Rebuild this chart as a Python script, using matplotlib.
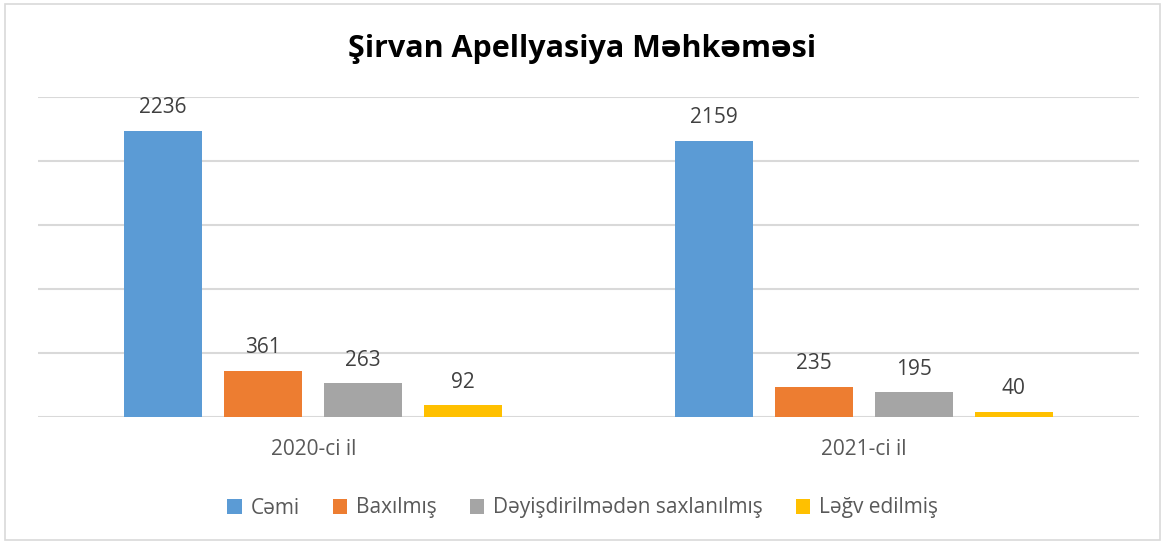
import matplotlib
matplotlib.use("Agg")
import matplotlib.pyplot as plt
import numpy as np
from matplotlib.patches import Rectangle

plt.rcParams['font.family'] = ['Open Sans', 'DejaVu Sans']

years = ["2020-ci il", "2021-ci il"]
series = ["Cəmi", "Baxılmış", "Dəyişdirilmədən saxlanılmış", "Ləğv edilmiş"]
cemi = [2236, 2159]
baxilmis = [361, 235]
deyisdirilmeden = [263, 195]
legv = [92, 40]
colors = ["#5B9BD5", "#ED7D31", "#A5A5A5", "#FFC000"]

values = [cemi, baxilmis, deyisdirilmeden, legv]

fig = plt.figure(figsize=(11.65, 5.44), dpi=100)
ax = fig.add_axes([38 / 1165, 1 - 417 / 544, (1139 - 38) / 1165, (417 - 97) / 544])

x = np.arange(len(years))
step = 0.1817
width = 0.142
for i, (name, vals) in enumerate(zip(series, values)):
    pos = x + (i - 1.5) * step
    bars = ax.bar(pos, vals, width, color=colors[i], label=name, zorder=3)
    for b, v in zip(bars, vals):
        ax.annotate(str(v), (b.get_x() + b.get_width() / 2, v),
                    xytext=(0, 9), textcoords="offset points",
                    ha="center", va="bottom", fontsize=15, color="#404040")

ax.set_xlim(-0.5, 1.5)
ax.set_ylim(0, 2500)
ax.set_yticks(np.arange(0, 2501, 500))
ax.set_yticklabels([])
ax.tick_params(axis="y", length=0)
ax.tick_params(axis="x", length=0, pad=16, labelsize=15, labelcolor="#595959")
ax.set_xticks(x)
ax.set_xticklabels(years)
ax.grid(axis="y", color="#D9D9D9", linewidth=1.5, zorder=0)
for s in ax.spines.values():
    s.set_visible(False)

fig.text(0.5, 1 - 49 / 544, "Şirvan Apellyasiya Məhkəməsi", ha="center", va="center",
         fontsize=22, fontweight="bold", color="black")

fig.legend(loc="center", bbox_to_anchor=(0.5, 1 - 508 / 544), ncol=4, frameon=False,
           fontsize=15, labelcolor="#595959", handlelength=0.7, handleheight=0.7,
           handletextpad=0.4, columnspacing=1.6)

fig.patches.append(Rectangle((5 / 1165, 4 / 544), 1155 / 1165, 536 / 544,
                             transform=fig.transFigure, fill=False,
                             edgecolor="#D9D9D9", linewidth=1.2))

fig.savefig("out.png", dpi=100)
